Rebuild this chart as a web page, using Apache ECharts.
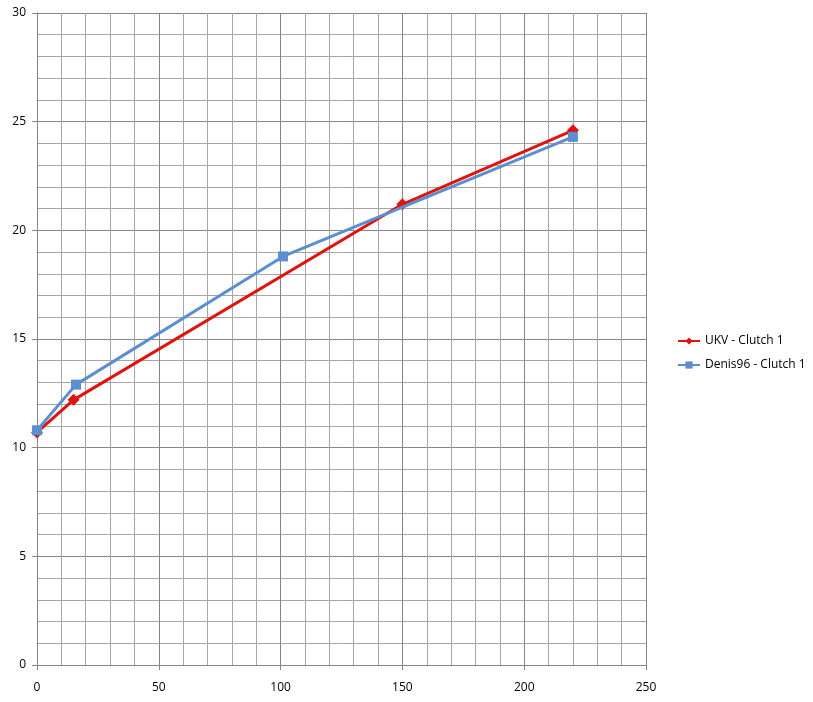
<!DOCTYPE html>
<html>
<head>
<meta charset="utf-8">
<script src="https://cdn.jsdelivr.net/npm/echarts@6/dist/echarts.min.js"></script>
<style>html,body{margin:0;padding:0;background:#fff}#c{width:813px;height:702px}</style>
</head>
<body>
<div id="c"></div>
<script>
const seriesNames = ["UKV - Clutch 1", "Denis96 - Clutch 1"];
const ukvX = [0, 15, 150, 220];
const ukvY = [10.7, 12.2, 21.2, 24.6];
const denisX = [0, 16, 101, 220];
const denisY = [10.8, 12.9, 18.8, 24.3];
const xTicks = [0, 50, 100, 150, 200, 250];
const yTicks = [0, 5, 10, 15, 20, 25, 30];

const chart = echarts.init(document.getElementById('c'));
const font = 'Open Sans, Liberation Sans, sans-serif';
chart.setOption({
  animation: false,
  backgroundColor: '#fff',
  grid: {left: 37, right: 167, top: 13, bottom: 37, containLabel: false},
  legend: {
    orient: 'vertical', left: 677, top: 335, padding: 0, itemWidth: 22, itemHeight: 9, itemGap: 12,
    textStyle: {fontFamily: font, fontSize: 12, color: '#000'},
    data: seriesNames
  },
  xAxis: {
    type: 'value', min: xTicks[0], max: xTicks[xTicks.length - 1], interval: 50,
    axisLine: {show: true, onZero: false, lineStyle: {color: '#868686'}},
    axisTick: {show: true, inside: false, length: 5, lineStyle: {color: '#868686'}},
    minorTick: {show: false, splitNumber: 5},
    axisLabel: {margin: 17, fontFamily: font, fontSize: 12, color: '#000'},
    splitLine: {show: true, lineStyle: {color: '#868686', width: 1}},
    minorSplitLine: {show: true, lineStyle: {color: '#a6a6a6', width: 1}}
  },
  yAxis: {
    type: 'value', min: yTicks[0], max: yTicks[yTicks.length - 1], interval: 5,
    axisLine: {show: true, onZero: false, lineStyle: {color: '#868686'}},
    axisTick: {show: true, inside: false, length: 5, lineStyle: {color: '#868686'}},
    minorTick: {show: false, splitNumber: 5},
    axisLabel: {margin: 11, fontFamily: font, fontSize: 12, color: '#000'},
    splitLine: {show: true, lineStyle: {color: '#868686', width: 1}},
    minorSplitLine: {show: true, lineStyle: {color: '#a6a6a6', width: 1}}
  },
  series: [
    {
      name: seriesNames[0], type: 'line',
      data: ukvX.map((x, i) => [x, ukvY[i]]),
      symbol: 'diamond', symbolSize: 12,
      lineStyle: {color: '#e0140f', width: 3},
      itemStyle: {color: '#e0140f'},
      z: 2
    },
    {
      name: seriesNames[1], type: 'line',
      data: denisX.map((x, i) => [x, denisY[i]]),
      symbol: 'rect', symbolSize: 10,
      lineStyle: {color: '#5b8fd0', width: 3},
      itemStyle: {color: '#5b8fd0'},
      z: 3
    }
  ]
});
</script>
</body>
</html>
